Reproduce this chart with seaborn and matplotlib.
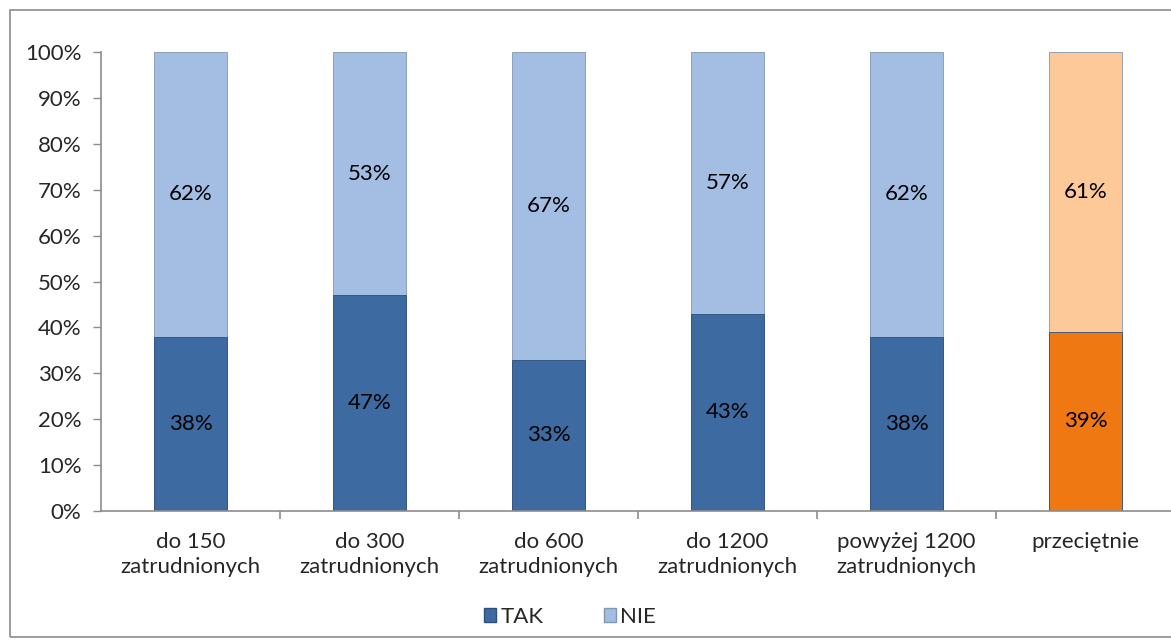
import matplotlib
matplotlib.use("Agg")
import matplotlib.pyplot as plt
import seaborn as sns
import pandas as pd
from matplotlib.patches import Patch, Rectangle
from matplotlib.ticker import FixedLocator

categories = ["do 150\nzatrudnionych", "do 300\nzatrudnionych", "do 600\nzatrudnionych",
              "do 1200\nzatrudnionych", "powyżej 1200\nzatrudnionych", "przeciętnie"]
tak = [38, 47, 33, 43, 38, 39]
nie = [62, 53, 67, 57, 62, 61]
series_names = ["TAK", "NIE"]

sns.set_theme(style="white")
plt.rcParams['font.family'] = ['Lato', 'DejaVu Sans']

dark = ["#3d6aa1"] * 5 + ["#f07812"]
light = ["#a3bee2"] * 5 + ["#fdc999"]

df = pd.DataFrame({"cat": categories, "TAK": tak, "NIE": nie})
df["total"] = df["TAK"] + df["NIE"]

FS = 16

fig = plt.figure(figsize=(11.71, 6.42), dpi=100)
ax = fig.add_axes([101 / 1171, 131 / 642, 1074 / 1171, 459 / 642])

sns.barplot(data=df, x="cat", y="total", hue="cat", palette=light, legend=False,
            width=0.41, ax=ax, edgecolor="#8297b0", linewidth=0.6, saturation=1)
sns.barplot(data=df, x="cat", y="TAK", hue="cat", palette=dark, legend=False,
            width=0.41, ax=ax, edgecolor="#2d4f78", linewidth=0.6, saturation=1)

for i, (t, n) in enumerate(zip(tak, nie)):
    ax.text(i, t / 2, f"{t}%", ha="center", va="center", fontsize=FS, color="black")
    ax.text(i, t + n / 2, f"{n}%", ha="center", va="center", fontsize=FS, color="black")

ax.set_xlim(-0.5, 5.5)
ax.set_ylim(0, 100)
ax.set_yticks(range(0, 101, 10))
ax.set_yticklabels([f"{v}%" for v in range(0, 101, 10)], fontsize=FS)
ax.set_xlabel("")
ax.set_ylabel("")
ax.tick_params(axis="x", labelsize=FS, length=0, pad=15)
ax.tick_params(axis="y", length=6, width=1, color="#8c8c8c", left=True, pad=8)
ax.xaxis.set_minor_locator(FixedLocator([0.5, 1.5, 2.5, 3.5, 4.5]))
ax.tick_params(axis="x", which="minor", bottom=True, length=6, width=1.2, color="#8c8c8c")
for lab in ax.get_xticklabels():
    lab.set_linespacing(1.3)

for s in ["top", "right"]:
    ax.spines[s].set_visible(False)
for s in ["left", "bottom"]:
    ax.spines[s].set_color("#8c8c8c")
    ax.spines[s].set_linewidth(1.2)

handles = [Patch(facecolor="#3d6aa1", edgecolor="#2d4f78", label="TAK"),
           Patch(facecolor="#a3bee2", edgecolor="#8297b0", label="NIE")]
fig.legend(handles=handles, labels=series_names, loc="center", bbox_to_anchor=(570 / 1171, 1 - 617 / 642),
           ncol=2, frameon=False, fontsize=FS, handlelength=0.55, handleheight=0.55,
           handletextpad=0.2, columnspacing=2.7)

fig.patches.append(Rectangle((10 / 1171, 5 / 642), 1.2, 627 / 642, transform=fig.transFigure,
                             fill=False, edgecolor="#8c8c8c", linewidth=1.2, zorder=-1))

fig.savefig("out.png", dpi=100)
